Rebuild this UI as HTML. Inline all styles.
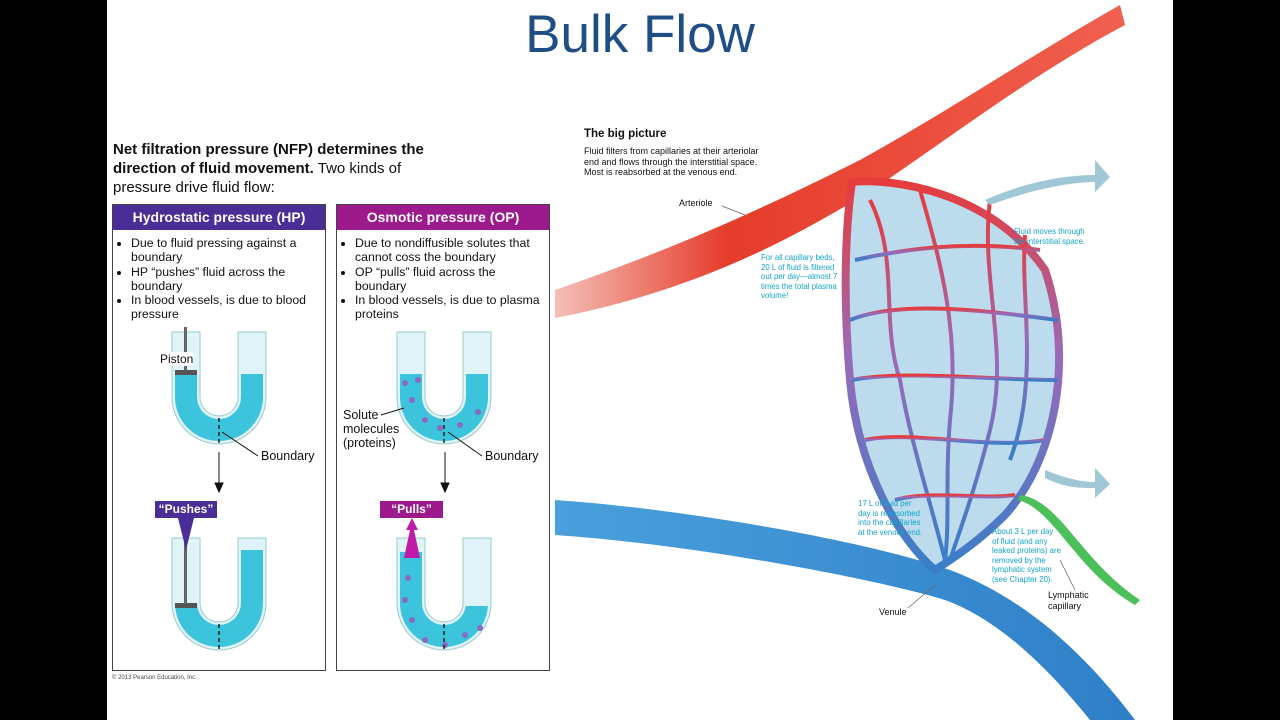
<!DOCTYPE html>
<html><head><meta charset="utf-8"><style>
body{margin:0;width:1280px;height:720px;background:#000;overflow:hidden;font-family:"Liberation Sans",Arial,sans-serif}
#s{position:absolute;left:107px;top:0;width:1066px;height:720px;background:#fff}
.a{position:absolute}
.box{position:absolute;border:1px solid #444;background:#fff}
.hd{height:25px;color:#fff;font-weight:bold;font-size:14px;line-height:25px;text-align:center}
ul{margin:6px 0 0 0;padding:0 0 0 18px;font-size:12.3px;line-height:14.3px;color:#111}
li{margin:0}
.sm{font-size:9px;line-height:10.5px}
.cy{color:#14a3c8;font-size:7.8px;line-height:9.5px}
</style></head><body>
<div id="s"></div>
<div class="a" style="left:0;top:4px;width:1280px;text-align:center;font-size:53px;color:#1f4e87;font-family:'Liberation Sans',sans-serif">Bulk Flow</div>
<div class="a" style="left:113px;top:140px;white-space:nowrap;font-size:15px;line-height:19px;color:#111"><b>Net filtration pressure (NFP) determines the<br>direction of fluid movement.</b> Two kinds of<br>pressure drive fluid flow:</div>

<div class="box" style="left:112px;top:204px;width:212px;height:465px">
<div class="hd" style="background:#4a2d96">Hydrostatic pressure (HP)</div>
<ul><li>Due to fluid pressing against a boundary</li><li>HP “pushes” fluid across the boundary</li><li>In blood vessels, is due to blood pressure</li></ul></div>
<div class="box" style="left:336px;top:204px;width:212px;height:465px">
<div class="hd" style="background:#9c1a8c">Osmotic pressure (OP)</div>
<ul><li>Due to nondiffusible solutes that cannot coss the boundary</li><li>OP “pulls” fluid across the boundary</li><li>In blood vessels, is due to plasma proteins</li></ul></div>

<svg class="a" style="left:0;top:0" width="1280" height="720">
<defs>
<g id="u"><path d="M0 0 V65 A47 47 0 0 0 94 65 V0 H66 V65 A19 19 0 0 1 28 65 V0 Z" fill="#dff3f8" stroke="#9cc" stroke-width="1"/></g>
<linearGradient id="ar" x1="0" x2="1"><stop offset="0" stop-color="#f4c0b8"/><stop offset=".3" stop-color="#e63c2c"/><stop offset="1" stop-color="#f06050"/></linearGradient>
<linearGradient id="ve" x1="0" x2="1"><stop offset="0" stop-color="#4aa0dc"/><stop offset="1" stop-color="#2f7fc8"/></linearGradient>
<linearGradient id="bed" x1="0" y1="0" x2="0" y2="1"><stop offset="0" stop-color="#e63c3c"/><stop offset=".45" stop-color="#9a6ab8"/><stop offset="1" stop-color="#3a7ec8"/></linearGradient>
</defs>
<g transform="translate(172,332)"><use href="#u"/><path d="M3 42 V65 A44 44 0 0 0 91 65 V42 H69 V65 A22 22 0 0 1 25 65 V42Z" fill="#3cc4dc"/><rect x="3" y="38" width="22" height="5" fill="#555"/><rect x="12" y="-5" width="3" height="44" fill="#666"/></g>
<g transform="translate(172,538)"><use href="#u"/><path d="M3 68 V65 A44 44 0 0 0 91 65 V12 H69 V65 A22 22 0 0 1 25 65 V68Z" fill="#3cc4dc"/><rect x="3" y="65" width="22" height="5" fill="#555"/><rect x="12" y="0" width="3" height="66" fill="#666"/></g>
<g transform="translate(397,332)"><use href="#u"/><path d="M3 42 V65 A44 44 0 0 0 91 65 V42 H69 V65 A22 22 0 0 1 25 65 V42Z" fill="#3cc4dc"/></g>
<g transform="translate(397,538)"><use href="#u"/><path d="M3 14 V65 A44 44 0 0 0 91 65 V68 H69 V65 A22 22 0 0 1 25 65 V14Z" fill="#3cc4dc"/></g>
<g fill="#8a6ac0"><circle cx="405" cy="383" r="3"/><circle cx="412" cy="400" r="3"/><circle cx="425" cy="420" r="3"/><circle cx="440" cy="428" r="3"/><circle cx="460" cy="425" r="3"/><circle cx="478" cy="412" r="3"/><circle cx="418" cy="380" r="3"/><circle cx="405" cy="600" r="3"/><circle cx="412" cy="620" r="3"/><circle cx="425" cy="640" r="3"/><circle cx="445" cy="645" r="3"/><circle cx="465" cy="635" r="3"/><circle cx="480" cy="628" r="3"/><circle cx="408" cy="578" r="3"/></g>
<g stroke="#222" stroke-dasharray="4 3" stroke-width="1.5"><line x1="219" y1="418" x2="219" y2="443"/><line x1="219" y1="624" x2="219" y2="650"/><line x1="444" y1="418" x2="444" y2="443"/><line x1="444" y1="624" x2="444" y2="650"/></g>
<g stroke="#111" fill="#111"><line x1="219" y1="452" x2="219" y2="485"/><path d="M215 483 L223 483 L219 492Z"/><line x1="445" y1="452" x2="445" y2="485"/><path d="M441 483 L449 483 L445 492Z"/>
<line x1="160" y1="358" x2="184" y2="360"/><line x1="222" y1="432" x2="258" y2="456"/><line x1="381" y1="415" x2="404" y2="408"/><line x1="448" y1="432" x2="482" y2="456"/></g>
<rect x="155" y="501" width="62" height="17" fill="#4a2d96"/><path d="M178 518 H194 L186 550Z" fill="#4a2d96"/>
<rect x="380" y="501" width="63" height="17" fill="#9c1a8c"/><path d="M404 558 H420 L414 530 L418 530 L412 518 L406 530 L410 530Z" fill="#c01aa8"/>
<path d="M555 290 C700 240 800 190 860 160 C950 110 1040 50 1120 5 L1125 25 C1040 70 960 130 880 185 C800 235 700 290 555 318Z" fill="url(#ar)"/>
<path d="M555 500 C700 510 880 545 950 570 C1030 600 1090 660 1135 720 L1090 720 C1050 670 1000 620 945 600 C880 580 700 545 555 535Z" fill="url(#ve)"/>
<path d="M852 182 C890 178 990 190 1045 270 C1075 360 1055 460 1005 515 C975 545 950 560 935 570 C900 540 858 470 850 380 C843 300 845 230 852 182Z" fill="#bcdcee" stroke="url(#bed)" stroke-width="8"/>
<g stroke="url(#bed)" stroke-width="4" fill="none">
<path d="M870 200 C900 260 880 320 900 380 C910 440 930 500 945 560"/><path d="M920 190 C940 260 960 330 950 420 C945 480 950 520 945 560"/><path d="M990 200 C980 280 1010 350 990 430 C975 490 960 530 950 560"/><path d="M1025 235 C1020 300 1040 380 1010 460"/>
<path d="M855 260 C900 250 960 240 1040 250"/><path d="M850 320 C900 300 980 310 1058 320"/><path d="M852 380 C900 370 990 380 1058 380"/><path d="M865 440 C910 430 990 450 1045 440"/><path d="M895 500 C930 490 980 500 1015 495"/>
</g>
<path d="M1020 495 C1060 500 1080 560 1140 600 L1135 605 C1075 570 1055 510 1018 500Z" fill="#4bbf5a"/>
<path d="M985 200 C1030 180 1070 175 1095 175 L1095 160 L1110 177 L1095 192 L1095 182 C1070 182 1030 190 990 205Z" fill="#9fc7d6"/>
<path d="M1045 470 C1070 480 1085 482 1095 482 L1095 468 L1110 484 L1095 498 L1095 488 C1080 488 1065 488 1045 478Z" fill="#9fc7d6"/>
<g stroke="#666" stroke-width=".8"><line x1="722" y1="206" x2="745" y2="215"/><line x1="908" y1="608" x2="935" y2="585"/><line x1="1075" y1="590" x2="1060" y2="560"/></g>
</svg>
<div class="a" style="left:160px;top:352px;font-size:12px;color:#111;background:#fff">Piston</div>
<div class="a" style="left:261px;top:449px;font-size:12.5px;color:#111">Boundary</div>
<div class="a" style="left:485px;top:449px;font-size:12.5px;color:#111">Boundary</div>
<div class="a" style="left:343px;top:408px;font-size:12.5px;line-height:14px;color:#111">Solute<br>molecules<br>(proteins)</div>
<div class="a" style="left:155px;top:502px;width:62px;text-align:center;font-size:12px;font-weight:bold;color:#fff">“Pushes”</div>
<div class="a" style="left:380px;top:502px;width:63px;text-align:center;font-size:12px;font-weight:bold;color:#fff">“Pulls”</div>
<div class="a" style="left:112px;top:675px;font-size:6px;color:#444">© 2013 Pearson Education, Inc.</div>
<div class="a" style="left:584px;top:128px;font-size:11.5px;font-weight:bold;color:#111">The big picture</div>
<div class="a sm" style="left:584px;top:146px;color:#111">Fluid filters from capillaries at their arteriolar<br>end and flows through the interstitial space.<br>Most is reabsorbed at the venous end.</div>
<div class="a sm" style="left:679px;top:198px;color:#111">Arteriole</div>
<div class="a sm" style="left:879px;top:607px;color:#111">Venule</div>
<div class="a sm" style="left:1048px;top:590px;color:#111">Lymphatic<br>capillary</div>
<div class="a cy" style="left:761px;top:253px">For all capillary beds,<br>20 L of fluid is filtered<br>out per day—almost 7<br>times the total plasma<br>volume!</div>
<div class="a cy" style="left:1014px;top:227px">Fluid moves through<br>the interstitial space.</div>
<div class="a cy" style="left:858px;top:499px">17 L of fluid per<br>day is reabsorbed<br>into the capillaries<br>at the venous end.</div>
<div class="a cy" style="left:992px;top:527px">About 3 L per day<br>of fluid (and any<br>leaked proteins) are<br>removed by the<br>lymphatic system<br>(see Chapter 20).</div>
</body></html>
